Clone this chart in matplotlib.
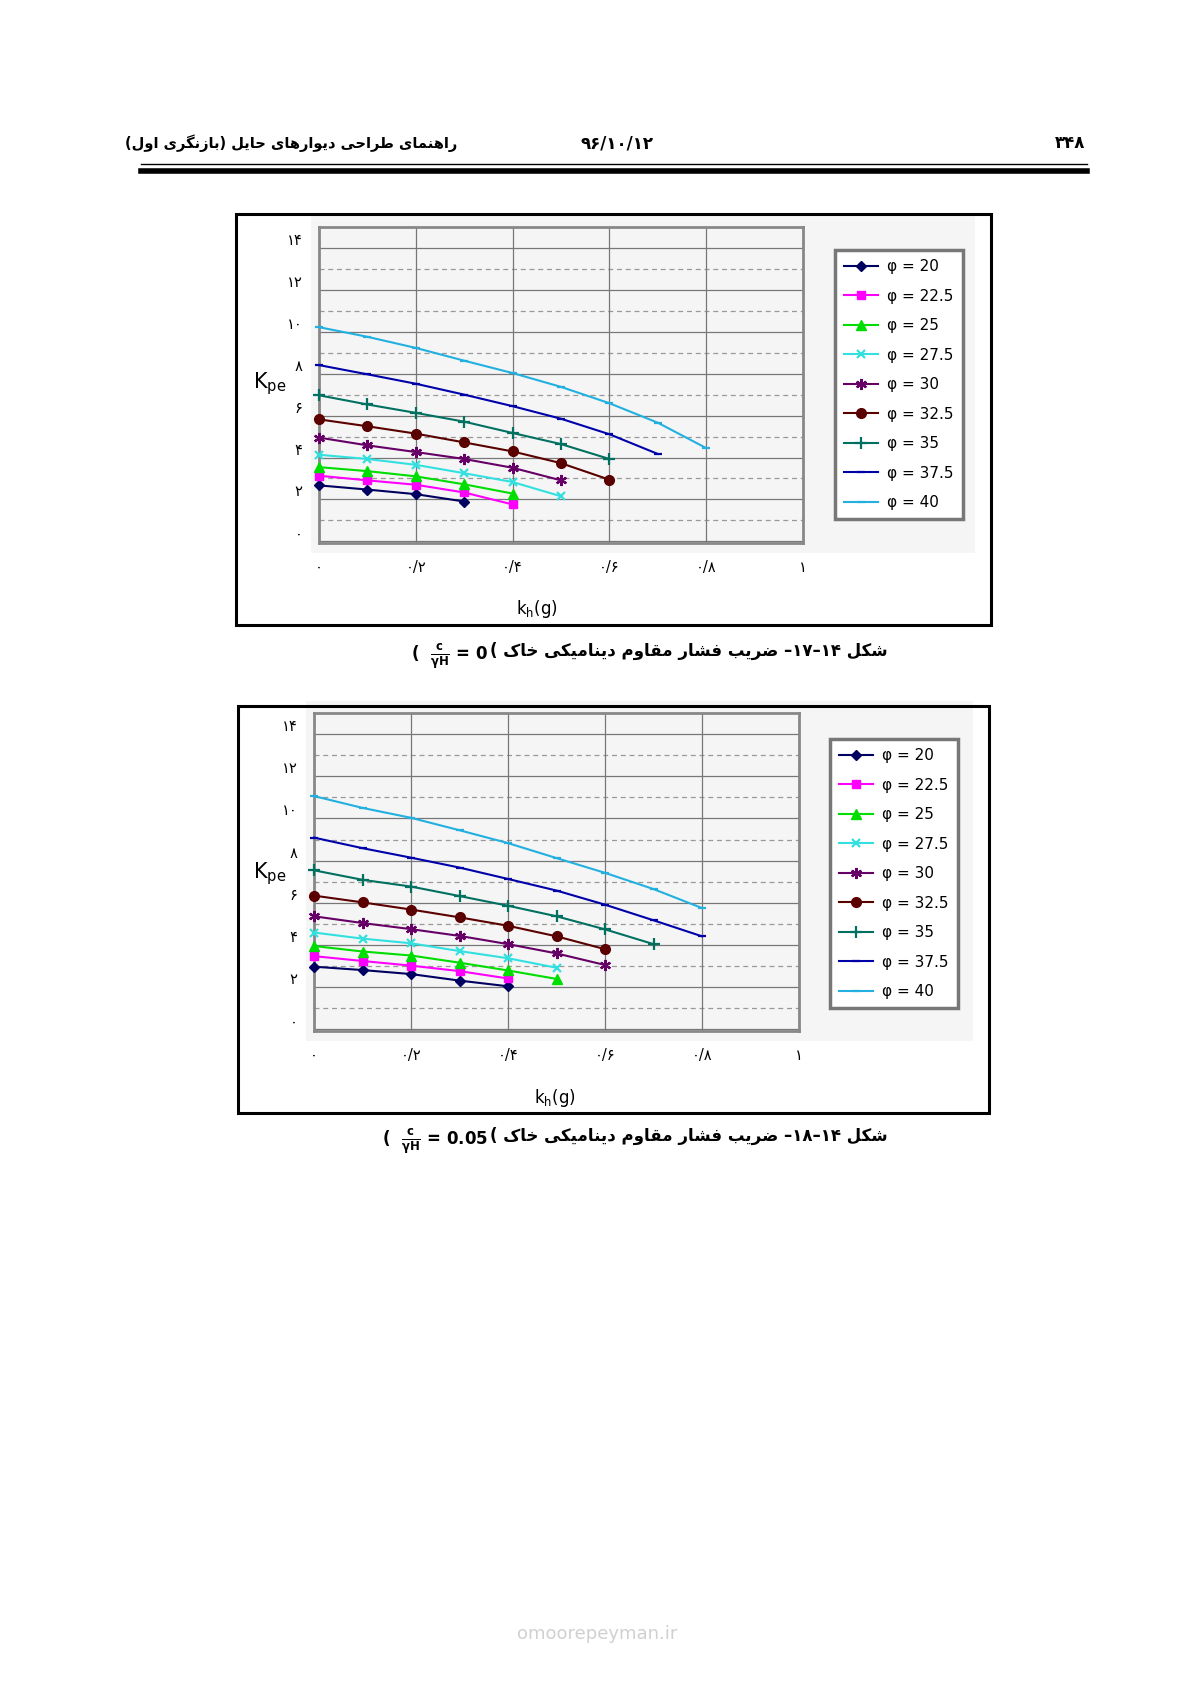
import matplotlib
matplotlib.use('Agg')
import matplotlib.pyplot as plt
from matplotlib.patches import Rectangle
from matplotlib.lines import Line2D

plt.rcParams['font.family'] = ['DejaVu Sans']

# ---------------- data ----------------
phi_labels = ['20', '22.5', '25', '27.5', '30', '32.5', '35', '37.5', '40']
kh_step = 0.1

# شکل ۱۴-۱۷ (c/γH = 0)
kpe_c0 = [
    [2.67, 2.47, 2.25, 1.90],
    [3.13, 2.91, 2.70, 2.33, 1.76],
    [3.54, 3.35, 3.10, 2.72, 2.28],
    [4.13, 3.93, 3.65, 3.25, 2.83, 2.15],
    [4.95, 4.58, 4.26, 3.93, 3.51, 2.91],
    [5.82, 5.49, 5.14, 4.72, 4.29, 3.73, 2.94],
    [6.97, 6.53, 6.13, 5.71, 5.17, 4.64, 3.93],
    [8.41, 7.97, 7.52, 7.00, 6.45, 5.85, 5.11, 4.17],
    [10.22, 9.76, 9.23, 8.62, 8.03, 7.37, 6.59, 5.66, 4.45],
]

# شکل ۱۴-۱۸ (c/γH = 0.05)
kpe_c005 = [
    [2.97, 2.81, 2.62, 2.31, 2.04],
    [3.47, 3.24, 3.02, 2.76, 2.41],
    [3.95, 3.69, 3.50, 3.16, 2.79, 2.39],
    [4.59, 4.30, 4.08, 3.71, 3.37, 2.92],
    [5.36, 5.04, 4.75, 4.43, 4.04, 3.60, 3.05],
    [6.34, 6.02, 5.68, 5.31, 4.91, 4.41, 3.80],
    [7.54, 7.09, 6.77, 6.32, 5.86, 5.36, 4.74, 4.04],
    [9.09, 8.59, 8.14, 7.67, 7.13, 6.58, 5.91, 5.17, 4.41],
    [11.06, 10.50, 10.03, 9.44, 8.83, 8.12, 7.42, 6.65, 5.75],
]

x_ticks = [0, 0.2, 0.4, 0.6, 0.8, 1.0]
x_ticklabels = ['۰', '۰/۲', '۰/۴', '۰/۶', '۰/۸', '۱']
y_ticks = [0, 2, 4, 6, 8, 10, 12, 14]
y_ticklabels = ['۰', '۲', '۴', '۶', '۸', '۱۰', '۱۲', '۱۴']

colors = ['#000060', '#ff00ff', '#00dd00', '#33e0e0', '#660066',
          '#5a0000', '#007060', '#0000aa', '#22b0e0']
markers = ['D', 's', '^', 'x', (6, 2, 0), 'o', '+', '_', '_']
msizes = [5, 6, 7, 6, 8, 7, 8, 6, 6]

# ---------------- persian shaping ----------------
# isolated, final, initial, medial
FORMS = {
    'ا': ('\uFE8D', '\uFE8E', None, None),
    'ب': ('\uFE8F', '\uFE90', '\uFE91', '\uFE92'),
    'ت': ('\uFE95', '\uFE96', '\uFE97', '\uFE98'),
    'ح': ('\uFEA1', '\uFEA2', '\uFEA3', '\uFEA4'),
    'خ': ('\uFEA5', '\uFEA6', '\uFEA7', '\uFEA8'),
    'د': ('\uFEA9', '\uFEAA', None, None),
    'ر': ('\uFEAD', '\uFEAE', None, None),
    'ز': ('\uFEAF', '\uFEB0', None, None),
    'س': ('\uFEB1', '\uFEB2', '\uFEB3', '\uFEB4'),
    'ش': ('\uFEB5', '\uFEB6', '\uFEB7', '\uFEB8'),
    'ض': ('\uFEBD', '\uFEBE', '\uFEBF', '\uFEC0'),
    'ط': ('\uFEC1', '\uFEC2', '\uFEC3', '\uFEC4'),
    'ف': ('\uFED1', '\uFED2', '\uFED3', '\uFED4'),
    'ق': ('\uFED5', '\uFED6', '\uFED7', '\uFED8'),
    'ل': ('\uFEDD', '\uFEDE', '\uFEDF', '\uFEE0'),
    'م': ('\uFEE1', '\uFEE2', '\uFEE3', '\uFEE4'),
    'ن': ('\uFEE5', '\uFEE6', '\uFEE7', '\uFEE8'),
    'ه': ('\uFEE9', '\uFEEA', '\uFEEB', '\uFEEC'),
    'و': ('\uFEED', '\uFEEE', None, None),
    'ی': ('\uFEEF', '\uFEF0', '\uFEF3', '\uFEF4'),
    'ک': ('\uFB8E', '\uFB8F', '\uFB90', '\uFB91'),
    'گ': ('\uFB92', '\uFB93', '\uFB94', '\uFB95'),
}


def shape_word(w):
    out = []
    for i, ch in enumerate(w):
        if ch not in FORMS:
            out.append(ch)
            continue
        prev = w[i - 1] if i > 0 else None
        nxt = w[i + 1] if i + 1 < len(w) else None
        join_prev = prev in FORMS and FORMS[prev][2] is not None
        join_next = FORMS[ch][2] is not None and nxt in FORMS
        f = FORMS[ch]
        if join_prev and join_next:
            out.append(f[3])
        elif join_prev:
            out.append(f[1])
        elif join_next:
            out.append(f[2])
        else:
            out.append(f[0])
    return ''.join(out)


def fa(text):
    words = text.split(' ')
    vis = []
    for w in reversed(words):
        if any(c in FORMS for c in w):
            s = shape_word(w)[::-1]
            s = s.translate(str.maketrans('()', ')('))
            vis.append(s)
        else:
            vis.append(w)
    return ' '.join(vis)


# ---------------- figure ----------------
W, H = 1190, 1684
fig = plt.figure(figsize=(W / 100, H / 100), dpi=100)


def fx(px):
    return px / W


def fy(py):
    return 1 - py / H


# header
fig.text(fx(457), fy(143), fa('راهنمای طراحی دیوارهای حایل (بازنگری اول)'),
         ha='right', va='center', fontsize=10.5, fontweight='bold')
fig.text(fx(617), fy(143), '۹۶/۱۰/۱۲', ha='center', va='center',
         fontsize=12, fontweight='bold')
fig.text(fx(1085), fy(143), '۳۴۸', ha='right', va='center',
         fontsize=12, fontweight='bold')
fig.add_artist(Line2D([fx(141), fx(1087)], [fy(164), fy(164)], color='black', lw=1.0))
fig.add_artist(Line2D([fx(141), fx(1087)], [fy(170.5), fy(170.5)], color='black', lw=4.0))


def draw_chart(data, box, plot, legend_xy, kpe_xy, kh_xy, caption_y, cval):
    bx0, by0, bx1, by1 = box
    fig.add_artist(Rectangle((fx(bx0), fy(by1)), fx(bx1 - bx0), (by1 - by0) / H,
                             transform=fig.transFigure, fill=False, ec='black', lw=2.2))
    px0, py0, px1, py1 = plot
    fig.add_artist(Rectangle((fx(px0 - 8), fy(py1 + 10)), fx(bx1 - 16 - px0 + 8),
                             (py1 + 10 - py0 + 12) / H, transform=fig.transFigure,
                             fc='#f5f5f5', ec='none', zorder=0))

    ax = fig.add_axes([fx(px0), fy(py1), fx(px1 - px0), (py1 - py0) / H])
    ax.set_facecolor('#f5f5f5')
    ax.set_xlim(0, 1)
    ax.set_ylim(-0.08, 15)
    for v in range(0, 15, 2):
        ax.axhline(v, color='#777777', lw=0.9, zorder=1)
    for v in range(1, 15, 2):
        ax.axhline(v, color='#999999', lw=0.9, ls=(0, (4, 3)), zorder=1)
    for v in x_ticks:
        ax.axvline(v, color='#777777', lw=0.9, zorder=1)
    for s in ax.spines.values():
        s.set_color('#888888')
        s.set_linewidth(2)

    for i, ys in enumerate(data):
        xs = [kh_step * k for k in range(len(ys))]
        ax.plot(xs, ys, color=colors[i], marker=markers[i], ms=msizes[i],
                mew=1.6 if i in (3, 4, 6, 7, 8) else 1.0, lw=1.5, zorder=3,
                label='φ = ' + phi_labels[i], clip_on=False)

    ax.set_xticks(x_ticks)
    ax.set_xticklabels(x_ticklabels, fontsize=10.5)
    ax.set_yticks(y_ticks)
    ax.set_yticklabels(y_ticklabels, fontsize=10.5, va='bottom')
    ax.tick_params(axis='x', length=0, pad=12)
    ax.tick_params(axis='y', length=0, pad=12)

    leg = ax.legend(loc='upper left', bbox_to_anchor=(fx(legend_xy[0]), fy(legend_xy[1])),
                    bbox_transform=fig.transFigure, fontsize=11, handlelength=2.2,
                    labelspacing=0.95, fancybox=False, borderpad=0.6, borderaxespad=0,
                    handletextpad=0.6, framealpha=1)
    leg.get_frame().set_edgecolor('#777777')
    leg.get_frame().set_linewidth(2.5)

    fig.text(fx(kpe_xy[0]), fy(kpe_xy[1]), 'K$_{\\mathregular{pe}}$', ha='center',
             va='center', fontsize=15)
    fig.text(fx(kh_xy[0]), fy(kh_xy[1]), 'k$_{\\mathregular{h}}$(g)', ha='center',
             va='center', fontsize=12)

    # caption
    cap = '( ' + fa('ضریب فشار مقاوم دینامیکی خاک') + ' –' + cval[0] + '–۱۴ ' + fa('شکل')
    fig.text(fx(490), fy(caption_y), cap, ha='left', va='center', fontsize=12,
             fontweight='bold')
    fig.text(fx(488), fy(caption_y + 6), '(  ' + r'$\mathbf{\frac{c}{\gamma H}}$' + ' = ' + cval[1],
             ha='right', va='center', fontsize=12, fontweight='bold')
    return ax


draw_chart(kpe_c0, (236, 214, 991, 625), (319, 227, 803, 543), (835, 250),
           (270, 384), (537, 609), 651, ('۱۷', '0'))
draw_chart(kpe_c005, (238, 706, 989, 1113), (314, 713, 799, 1031), (830, 739),
           (270, 874), (555, 1098), 1136, ('۱۸', '0.05'))

# faint watermark
fig.text(fx(597), fy(1634), 'omoorepeyman.ir', ha='center', va='center',
         fontsize=13, color='#d0d0d0')

fig.savefig('out.png', dpi=100)
